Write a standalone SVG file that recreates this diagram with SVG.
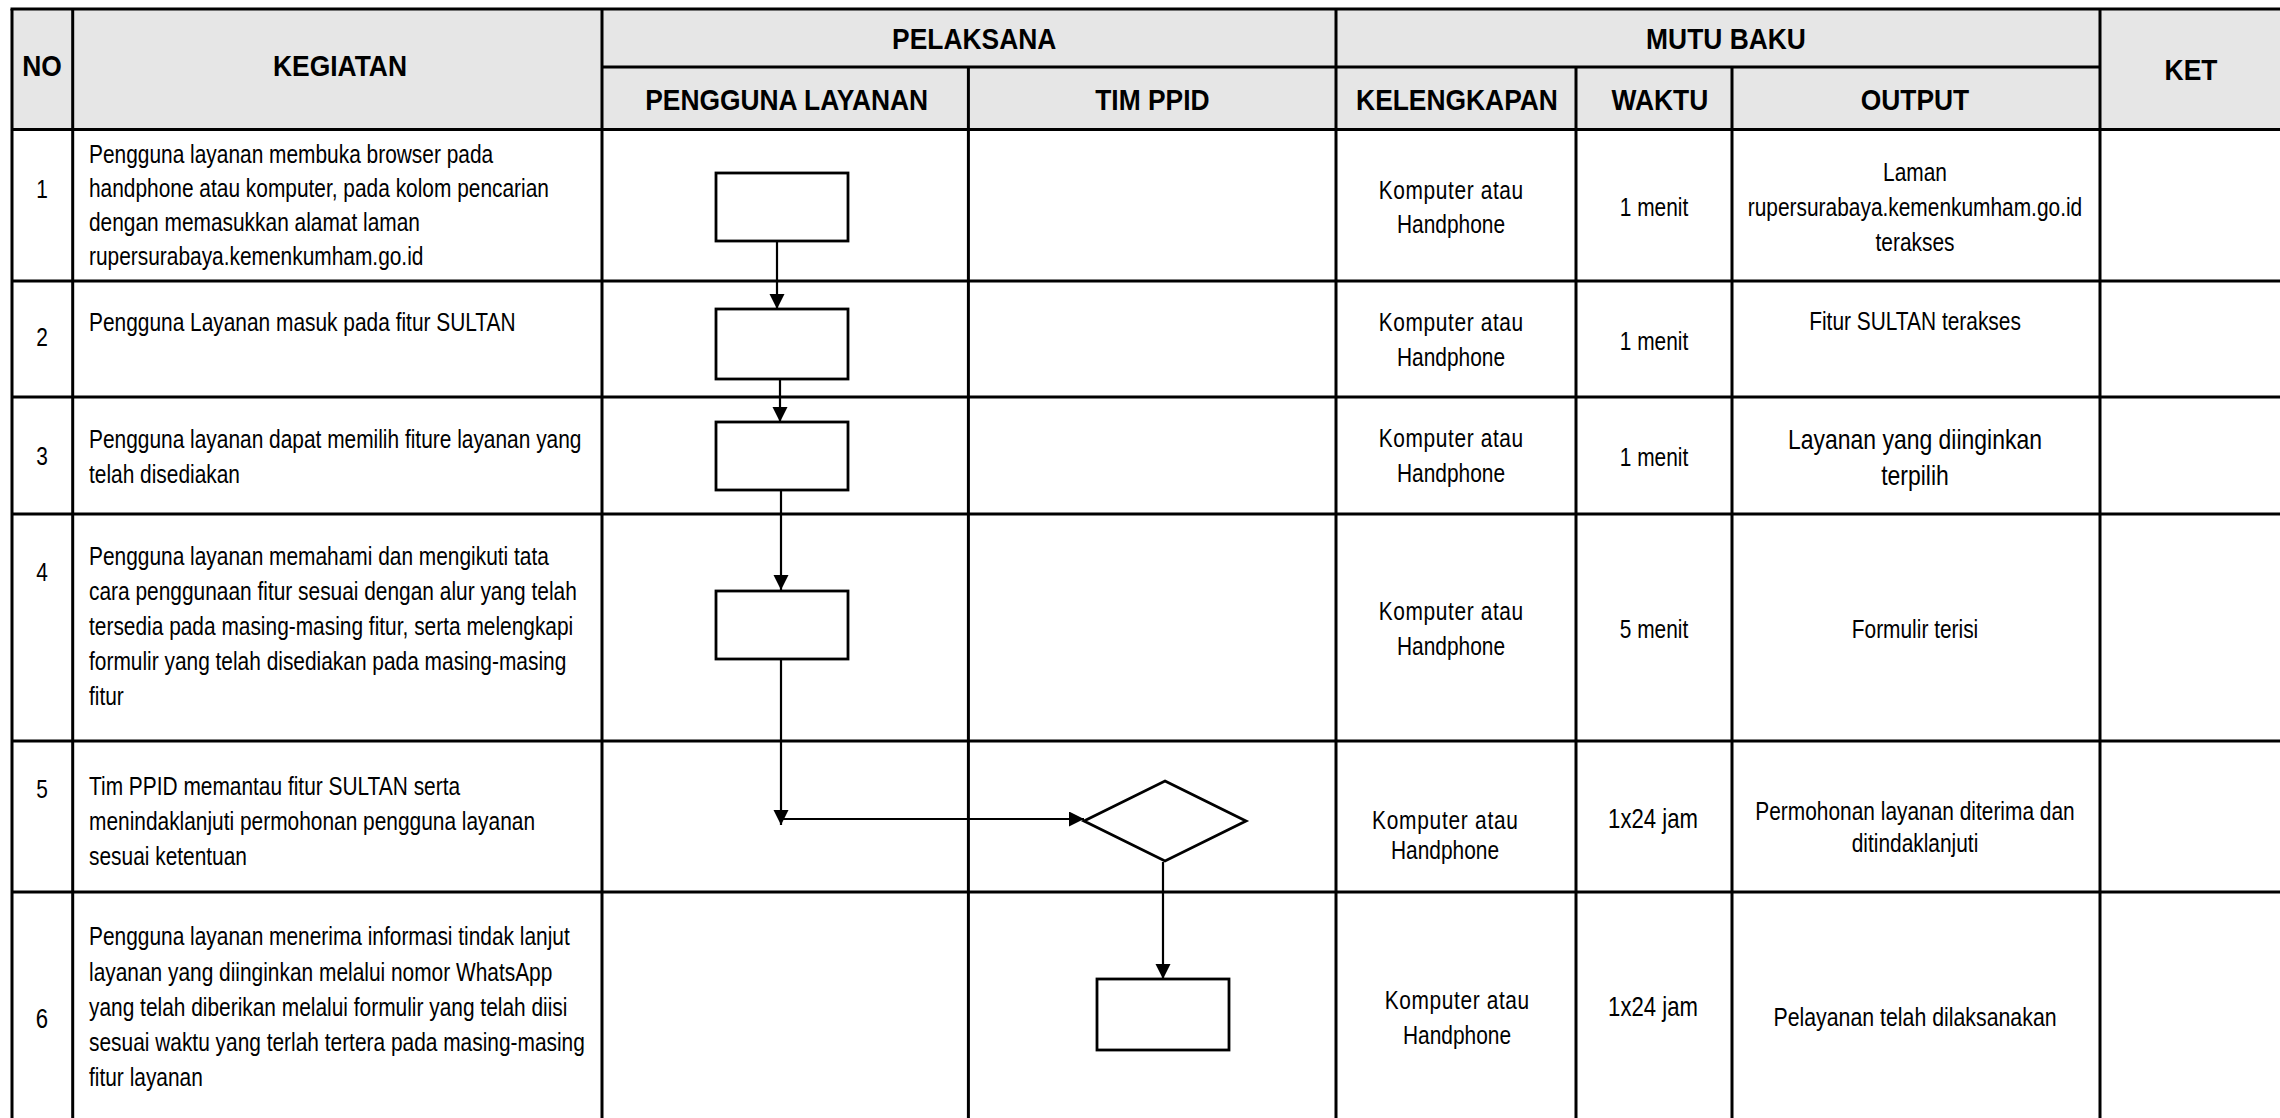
<svg xmlns="http://www.w3.org/2000/svg" width="2280" height="1118" viewBox="0 0 2280 1118">
<style>
.t{font-family:"Liberation Sans Narrow","Liberation Sans",Arial,sans-serif;font-size:25.5px;fill:#000}
.h{font-family:"Liberation Sans Narrow","Liberation Sans",Arial,sans-serif;font-size:29px;font-weight:bold;fill:#000}
.c{text-anchor:middle}
.g{stroke:#000;stroke-width:3;fill:none}
.n{fill:#fff;stroke:#000;stroke-width:2.8}
.k{stroke:#000;stroke-width:2.2;fill:none}
</style>
<defs>
<marker id="ah" markerUnits="userSpaceOnUse" markerWidth="16" markerHeight="16" refX="15" refY="7.5" orient="auto">
<path d="M0,0 L15,7.5 L0,15 z" fill="#000"/>
</marker>
</defs>
<rect x="0" y="0" width="2280" height="1118" fill="#fff"/>
<g id="table">
<rect x="12" y="9" width="2268" height="120.4" fill="#e6e6e6"/>
<g class="g">
<line x1="10.5" y1="9" x2="2280" y2="9"/>
<line x1="602" y1="67" x2="2100" y2="67"/>
<line x1="12" y1="129.4" x2="2280" y2="129.4"/>
<line x1="12" y1="281" x2="2280" y2="281"/>
<line x1="12" y1="397" x2="2280" y2="397"/>
<line x1="12" y1="514" x2="2280" y2="514"/>
<line x1="12" y1="741" x2="2280" y2="741"/>
<line x1="12" y1="892" x2="2280" y2="892"/>
<line x1="12" y1="9" x2="12" y2="1118"/>
<line x1="72.7" y1="9" x2="72.7" y2="1118"/>
<line x1="602" y1="9" x2="602" y2="1118"/>
<line x1="968.4" y1="67" x2="968.4" y2="1118"/>
<line x1="1336" y1="9" x2="1336" y2="1118"/>
<line x1="1576" y1="67" x2="1576" y2="1118"/>
<line x1="1732" y1="67" x2="1732" y2="1118"/>
<line x1="2100" y1="9" x2="2100" y2="1118"/>
</g>
<g transform="scale(0.91 1)">
<text class="h c" x="46.15" y="76">NO</text>
<text class="h c" x="373.63" y="76">KEGIATAN</text>
<text class="h c" x="1070.55" y="49">PELAKSANA</text>
<text class="h c" x="1896.7" y="49">MUTU BAKU</text>
<text class="h c" x="2407.69" y="80">KET</text>
<text class="h c" x="864.5" y="110">PENGGUNA LAYANAN</text>
<text class="h c" x="1266.37" y="110">TIM PPID</text>
<text class="h c" x="1601.1" y="110">KELENGKAPAN</text>
<text class="h c" x="1824.07" y="110">WAKTU</text>
<text class="h c" x="2104.4" y="110">OUTPUT</text>
</g>
</g>
<g transform="scale(0.82 1)">
<g id="row1">
<text class="t c" x="51.22" y="198">1</text>
<text class="t" x="108.54" y="163">Pengguna layanan membuka browser pada</text>
<text class="t" x="108.54" y="197">handphone atau komputer, pada kolom pencarian</text>
<text class="t" x="108.54" y="231">dengan memasukkan alamat laman</text>
<text class="t" x="108.54" y="265">rupersurabaya.kemenkumham.go.id</text>
<text class="t c" x="1769.51" y="199" textLength="176">Komputer atau</text>
<text class="t c" x="1769.51" y="233">Handphone</text>
<text class="t c" x="2017.07" y="216">1 menit</text>
<text class="t c" x="2335.37" y="181">Laman</text>
<text class="t c" x="2335.37" y="216">rupersurabaya.kemenkumham.go.id</text>
<text class="t c" x="2335.37" y="251">terakses</text>
</g>
<g id="row2">
<text class="t c" x="51.22" y="346">2</text>
<text class="t" x="108.54" y="331">Pengguna Layanan masuk pada fitur SULTAN</text>
<text class="t c" x="1769.51" y="331" textLength="176">Komputer atau</text>
<text class="t c" x="1769.51" y="366">Handphone</text>
<text class="t c" x="2017.07" y="350">1 menit</text>
<text class="t c" x="2335.37" y="330">Fitur SULTAN terakses</text>
</g>
<g id="row3">
<text class="t c" x="51.22" y="465">3</text>
<text class="t" x="108.54" y="448">Pengguna layanan dapat memilih fiture layanan yang</text>
<text class="t" x="108.54" y="483">telah disediakan</text>
<text class="t c" x="1769.51" y="447" textLength="176">Komputer atau</text>
<text class="t c" x="1769.51" y="482">Handphone</text>
<text class="t c" x="2017.07" y="466">1 menit</text>
<text class="t c" x="2335.37" y="449" style="font-size:28px">Layanan yang diinginkan</text>
<text class="t c" x="2335.37" y="485" style="font-size:28px">terpilih</text>
</g>
<g id="row4">
<text class="t c" x="51.22" y="581">4</text>
<text class="t" x="108.54" y="565">Pengguna layanan memahami dan mengikuti tata</text>
<text class="t" x="108.54" y="600">cara penggunaan fitur sesuai dengan alur yang telah</text>
<text class="t" x="108.54" y="635">tersedia pada masing-masing fitur, serta melengkapi</text>
<text class="t" x="108.54" y="670">formulir yang telah disediakan pada masing-masing</text>
<text class="t" x="108.54" y="705">fitur</text>
<text class="t c" x="1769.51" y="620" textLength="176">Komputer atau</text>
<text class="t c" x="1769.51" y="655">Handphone</text>
<text class="t c" x="2017.07" y="638">5 menit</text>
<text class="t c" x="2335.37" y="638">Formulir terisi</text>
</g>
<g id="row5">
<text class="t c" x="51.22" y="798">5</text>
<text class="t" x="108.54" y="795">Tim PPID memantau fitur SULTAN serta</text>
<text class="t" x="108.54" y="830">menindaklanjuti permohonan pengguna layanan</text>
<text class="t" x="108.54" y="865">sesuai ketentuan</text>
<text class="t c" x="1762.2" y="829" textLength="178">Komputer atau</text>
<text class="t c" x="1762.2" y="859">Handphone</text>
<text class="t c" x="2015.85" y="828" style="font-size:27px">1x24 jam</text>
<text class="t c" x="2335.37" y="820">Permohonan layanan diterima dan</text>
<text class="t c" x="2335.37" y="852">ditindaklanjuti</text>
</g>
<g id="row6">
<text class="t c" x="51.22" y="1028" style="font-size:27px">6</text>
<text class="t" x="108.54" y="945">Pengguna layanan menerima informasi tindak lanjut</text>
<text class="t" x="108.54" y="981">layanan yang diinginkan melalui nomor WhatsApp</text>
<text class="t" x="108.54" y="1016">yang telah diberikan melalui formulir yang telah diisi</text>
<text class="t" x="108.54" y="1051">sesuai waktu yang terlah tertera pada masing-masing</text>
<text class="t" x="108.54" y="1086">fitur layanan</text>
<text class="t c" x="1776.83" y="1009" textLength="176">Komputer atau</text>
<text class="t c" x="1776.83" y="1044">Handphone</text>
<text class="t c" x="2015.85" y="1016" style="font-size:27px">1x24 jam</text>
<text class="t c" x="2335.37" y="1026" style="font-size:26px">Pelayanan telah dilaksanakan</text>
</g>
</g>
<g id="node1"><rect class="n" x="716" y="173" width="132" height="68"/></g>
<g id="node2"><rect class="n" x="716" y="309" width="132" height="70"/></g>
<g id="node3"><rect class="n" x="716" y="422" width="132" height="68"/></g>
<g id="node4"><rect class="n" x="716" y="591" width="132" height="68"/></g>
<g id="node5"><polygon class="n" points="1165,781 1246,821 1165,861 1084,821"/></g>
<g id="node6"><rect class="n" x="1097" y="979" width="132" height="71"/></g>
<g id="connectors" class="k">
<path d="M777,242 V309" marker-end="url(#ah)"/>
<path d="M780,380 V422" marker-end="url(#ah)"/>
<path d="M781,491 V590" marker-end="url(#ah)"/>
<path d="M781,660 V825" marker-end="url(#ah)"/>
<path d="M783,819 H1084" marker-end="url(#ah)"/>
<path d="M1163,862 V979" marker-end="url(#ah)"/>
</g>
</svg>
